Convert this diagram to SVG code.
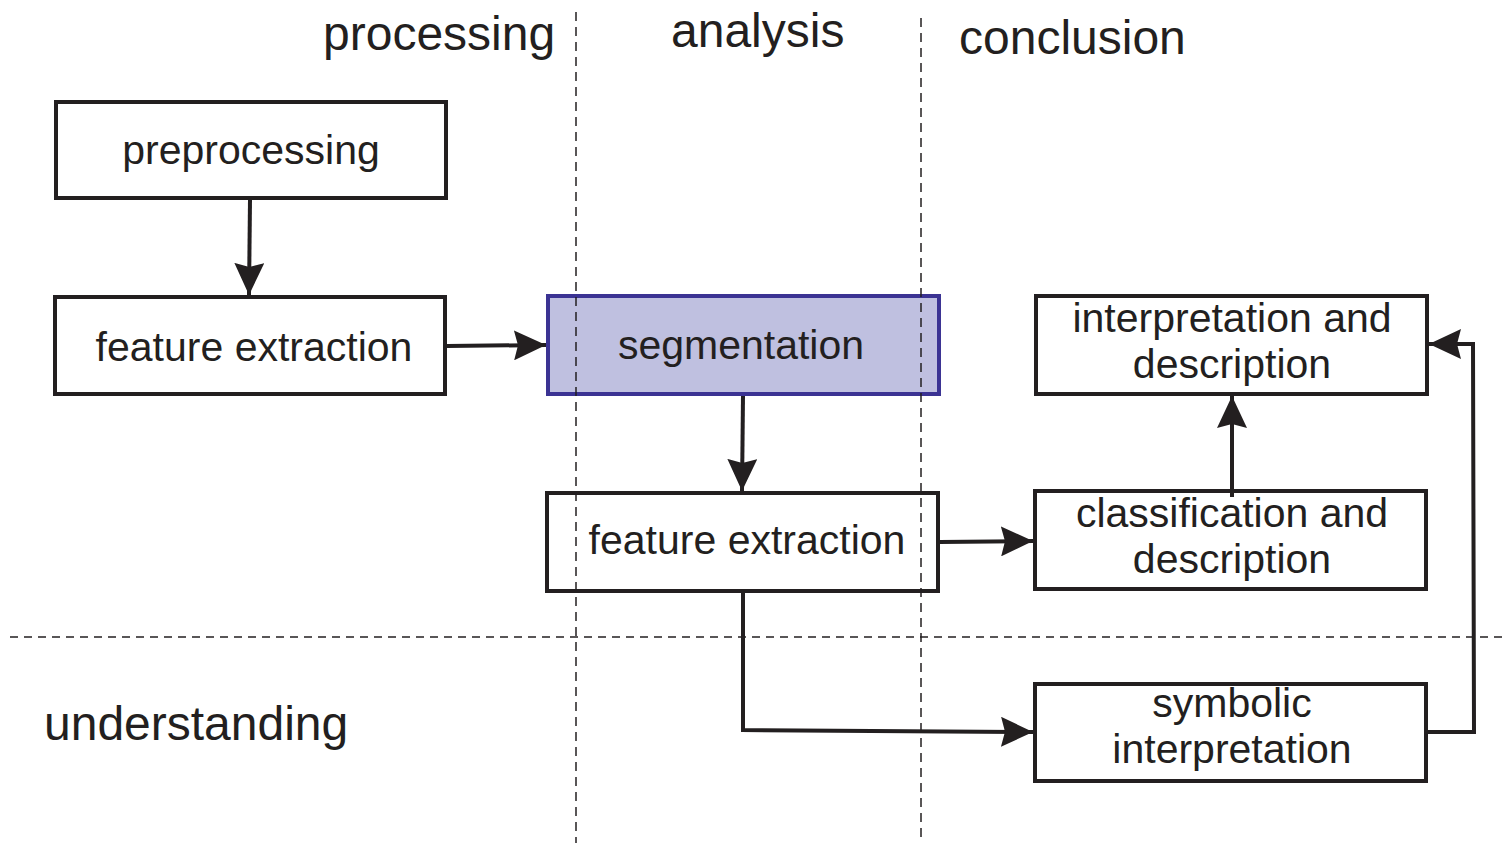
<svg xmlns="http://www.w3.org/2000/svg" width="1503" height="843" viewBox="0 0 1503 843">
  <style>
    .box { fill: #ffffff; stroke: #231f20; stroke-width: 4; }
    .hl { fill: #bfc0e0; stroke: #3b3393; stroke-width: 4; }
    .lbl { font-family: "Liberation Sans", Arial, sans-serif; font-size: 41px; fill: #231f20; text-anchor: middle; }
    .hdr { font-family: "Liberation Sans", Arial, sans-serif; font-size: 48px; fill: #231f20; }
    .conn { fill: none; stroke: #231f20; stroke-width: 4; marker-end: url(#arrow); }
    .div { stroke: #231f20; stroke-width: 1.5; fill: none; }
  </style>
  <defs>
    <marker id="arrow" viewBox="0 0 32 30" refX="32" refY="15" markerWidth="32" markerHeight="30" markerUnits="userSpaceOnUse" orient="auto">
      <path d="M0,0 L32,15 L0,30 L4,15 z" fill="#231f20"/>
    </marker>
  </defs>
  <rect width="1503" height="843" fill="#ffffff"/>

  <!-- section headings -->
  <g id="headings">
    <text class="hdr" x="323" y="50">processing</text>
    <text class="hdr" x="671" y="47">analysis</text>
    <text class="hdr" x="959" y="54">conclusion</text>
    <text class="hdr" x="44" y="740">understanding</text>
  </g>

  <g id="node-preprocessing">
    <rect class="box" x="56" y="102" width="390" height="96"/>
    <text class="lbl" x="251" y="164">preprocessing</text>
  </g>
  <g id="node-feature-extraction-1">
    <rect class="box" x="55" y="297" width="390" height="97"/>
    <text class="lbl" x="254" y="361">feature extraction</text>
  </g>
  <g id="node-segmentation">
    <rect class="hl" x="548" y="296" width="391" height="98"/>
    <text class="lbl" x="741" y="359">segmentation</text>
  </g>
  <g id="node-feature-extraction-2">
    <rect class="box" x="547" y="493" width="391" height="98"/>
    <text class="lbl" x="747" y="554">feature extraction</text>
  </g>
  <g id="node-interpretation">
    <rect class="box" x="1036" y="296" width="391" height="98"/>
    <text class="lbl" x="1232" y="332">interpretation and</text>
    <text class="lbl" x="1232" y="378">description</text>
  </g>
  <g id="node-classification">
    <rect class="box" x="1035" y="491" width="391" height="98"/>
    <text class="lbl" x="1232" y="527">classification and</text>
    <text class="lbl" x="1232" y="573">description</text>
  </g>
  <g id="node-symbolic">
    <rect class="box" x="1035" y="684" width="391" height="97"/>
    <text class="lbl" x="1232" y="717">symbolic</text>
    <text class="lbl" x="1232" y="763">interpretation</text>
  </g>

  <!-- column and row dividers, drawn over the boxes -->
  <g id="dividers">
    <line class="div" x1="576" y1="12" x2="576" y2="843" stroke-dasharray="9 6"/>
    <line class="div" x1="921" y1="18" x2="921" y2="843" stroke-dasharray="9 6"/>
    <line class="div" x1="10" y1="637" x2="1503" y2="637" stroke-dasharray="8 6"/>
  </g>

  <g id="connectors">
    <path class="conn" d="M250,200 L249,295"/>
    <path class="conn" d="M447,346 L546,345"/>
    <path class="conn" d="M743,396 L742,491"/>
    <path class="conn" d="M940,542 L1033,541"/>
    <path class="conn" d="M1232,497 L1232,396"/>
    <path class="conn" d="M743,593 L743,730 L1033,732"/>
    <path class="conn" d="M1428,732 L1474,732 L1473,344 L1429,344"/>
  </g>
</svg>
